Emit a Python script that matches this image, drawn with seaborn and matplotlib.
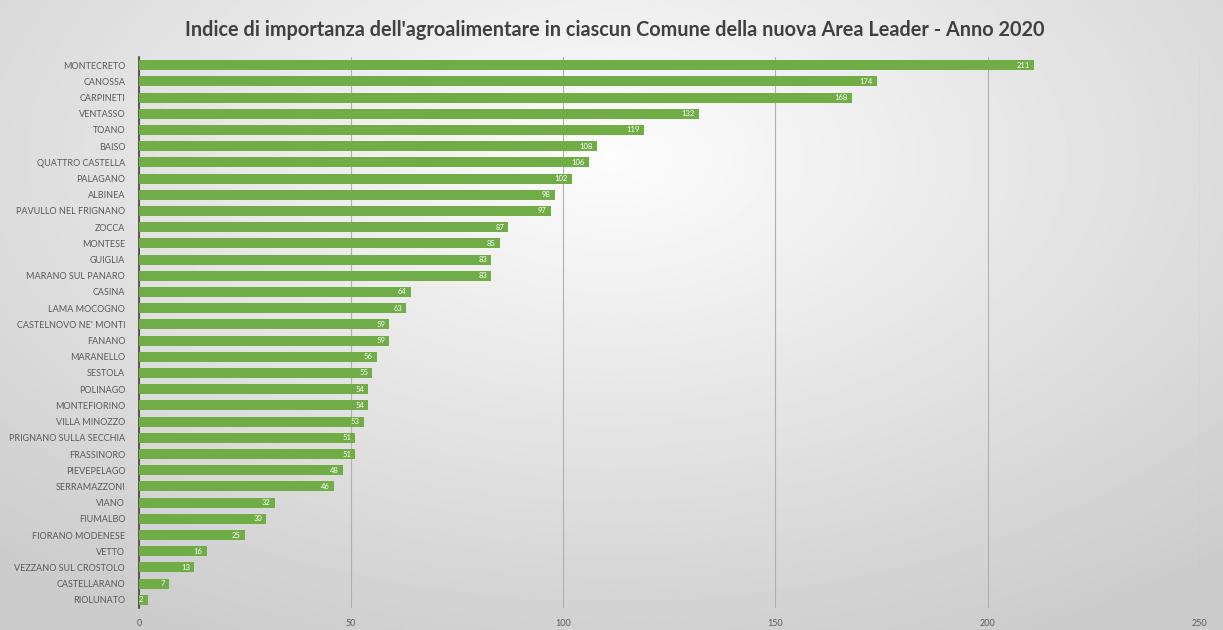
import numpy as np
import pandas as pd
import matplotlib.pyplot as plt
import seaborn as sns

# Data
comuni = ["MONTECRETO", "CANOSSA", "CARPINETI", "VENTASSO", "TOANO", "BAISO",
          "QUATTRO CASTELLA", "PALAGANO", "ALBINEA", "PAVULLO NEL FRIGNANO",
          "ZOCCA", "MONTESE", "GUIGLIA", "MARANO SUL PANARO", "CASINA",
          "LAMA MOCOGNO", "CASTELNOVO NE' MONTI", "FANANO", "MARANELLO",
          "SESTOLA", "POLINAGO", "MONTEFIORINO", "VILLA MINOZZO",
          "PRIGNANO SULLA SECCHIA", "FRASSINORO", "PIEVEPELAGO", "SERRAMAZZONI",
          "VIANO", "FIUMALBO", "FIORANO MODENESE", "VETTO",
          "VEZZANO SUL CROSTOLO", "CASTELLARANO", "RIOLUNATO"]
indice = [211, 174, 168, 132, 119, 108, 106, 102, 98, 97,
          87, 85, 83, 83, 64, 63, 59, 59, 56, 55, 54, 54, 53,
          51, 51, 48, 46, 32, 30, 25, 16, 13, 7, 2]
x_ticks = [0, 50, 100, 150, 200, 250]

df = pd.DataFrame({"Comune": comuni, "Indice": indice})

sns.set_style("white")
plt.rcParams['font.family'] = ['Lato', 'DejaVu Sans']

fig = plt.figure(figsize=(12.23, 6.3), dpi=100)

# gradient background (light centre, grey edges)
bg = fig.add_axes([0, 0, 1, 1], zorder=-10)
yy, xx = np.mgrid[-1:1:300j, -1:1:600j]
r = np.sqrt((xx * 0.8) ** 2 + ((yy + 0.5) * 0.7) ** 2)
bg.imshow(np.clip(0.99 - 0.16 * r, 0.8, 1), cmap='gray', vmin=0, vmax=1,
          aspect='auto', extent=[0, 1, 0, 1])
bg.axis('off')

ax = fig.add_axes([0.1137, 0.035, 0.8673, 0.8745])
ax.patch.set_alpha(0)

sns.barplot(data=df, x="Indice", y="Comune", color="#70AD47", width=0.62,
            saturation=1, linewidth=0, ax=ax, zorder=3)

for i, v in enumerate(indice):
    ax.text(v - 1.0, i, str(v), ha='right', va='center', fontsize=5.5,
            color='white', zorder=4)

ax.set_xlim(0, 250)
ax.set_xticks(x_ticks)
ax.tick_params(axis='x', labelsize=6.5, colors='#595959', length=0, pad=8)
ax.tick_params(axis='y', labelsize=6.5, colors='#595959', length=0, pad=10)
ax.grid(axis='x', color='#b0b0b0', linewidth=0.8, zorder=0)
ax.set_axisbelow(True)
for s in ['top', 'right', 'bottom']:
    ax.spines[s].set_visible(False)
ax.spines['left'].set_color('#404040')
ax.spines['left'].set_linewidth(1.2)
ax.set_xlabel('')
ax.set_ylabel('')

fig.text(0.503, 0.952, "Indice di importanza dell'agroalimentare in ciascun Comune della nuova Area Leader - Anno 2020",
         ha='center', va='center', fontsize=14.3, color='#404040', fontweight='bold')

fig.savefig('out.png', dpi=100)
